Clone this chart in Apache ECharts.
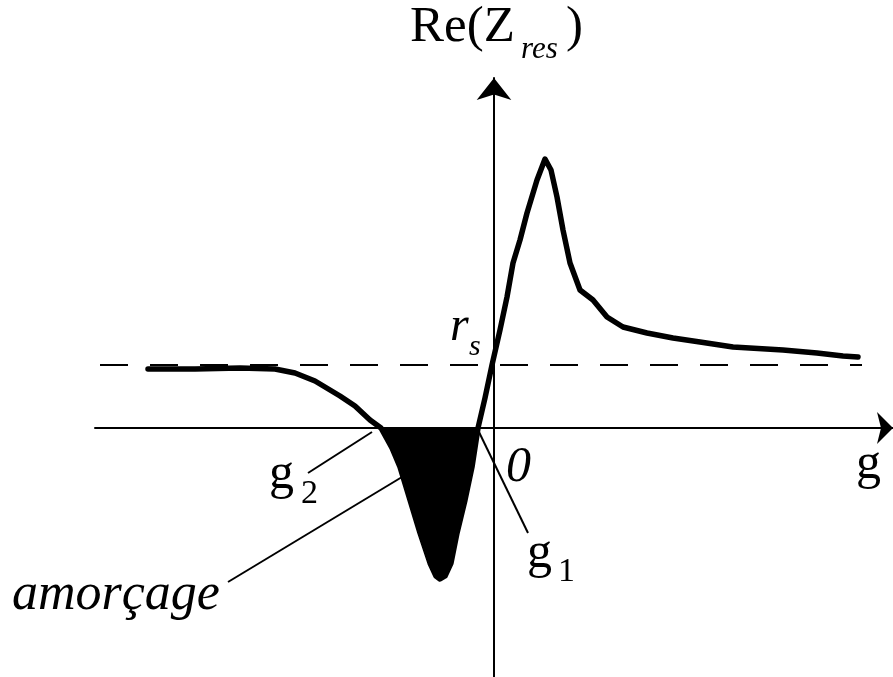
<!DOCTYPE html>
<html>
<head>
<meta charset="utf-8">
<script src="https://cdn.jsdelivr.net/npm/echarts@6/dist/echarts.min.js"></script>
<style>
  html, body { margin: 0; padding: 0; background: #fff; }
  #chart { width: 893px; height: 677px; }
</style>
</head>
<body>
<div id="chart"></div>
<script>
// Gain g (horizontal) and real part of the resonator impedance Re(Z_res) (vertical)
const curveG = [-3.46, -2.99, -2.54, -2.19, -1.99, -1.79, -1.54, -1.39, -1.24, -1.13,
  -1.02, -0.94, -0.84, -0.74, -0.64, -0.58, -0.54, -0.49, -0.43, -0.37, -0.29, -0.22, -0.16,
  -0.09, -0.02, 0.06, 0.13, 0.19, 0.26, 0.33, 0.43, 0.51, 0.57, 0.63, 0.69, 0.76, 0.86,
  0.99, 1.13, 1.29, 1.53, 1.79, 2.06, 2.39, 2.89, 3.23, 3.49, 3.64];
const curveRe = [0.59, 0.59, 0.60, 0.59, 0.55, 0.47, 0.32, 0.22, 0.08, 0,
  -0.20, -0.39, -0.72, -1.05, -1.35, -1.48, -1.51, -1.48, -1.35, -1.05, -0.72, -0.39, 0,
  0.30, 0.63, 0.98, 1.31, 1.65, 1.88, 2.15, 2.48, 2.69, 2.58, 2.31, 1.98, 1.65, 1.38,
  1.28, 1.11, 1.01, 0.95, 0.90, 0.86, 0.81, 0.78, 0.75, 0.72, 0.71];

// Series resistance level r_s (dashed reference line)
const rs = 0.63;
const rsSpan = [-3.94, 3.68];

// Zero crossings bounding the start-up (amorçage) region
const g2 = -1.13;
const g1 = -0.16;

// Leader lines from the annotations to the curve
const leaderG2 = [[-1.86, -0.45], [-1.22, -0.04]];
const leaderAmorcage = [[-2.66, -1.54], [-0.92, -0.49]];
const leaderG1 = [[-0.16, -0.02], [0.34, -1.05]];

const curve = curveG.map((g, i) => [g, curveRe[i]]);
const negativePart = curve.filter(p => p[0] >= g2 && p[0] <= g1);

const chart = echarts.init(document.getElementById('chart'), null, { renderer: 'canvas' });

const serif = '"Liberation Serif", "DejaVu Serif", serif';
function txt(text, x, y, size, italic) {
  return {
    type: 'text', x: x, y: y, z: 100,
    style: {
      text: text,
      font: (italic ? 'italic ' : '') + size + 'px ' + serif,
      fill: '#000',
      textAlign: 'left',
      textVerticalAlign: 'middle'
    }
  };
}

const leaderStyle = { color: '#000', width: 2 };
function leader(data) {
  return {
    type: 'line', data: data, symbol: 'none', silent: true,
    lineStyle: leaderStyle, z: 3, clip: false
  };
}

chart.setOption({
  animation: false,
  backgroundColor: '#fff',
  grid: { left: 95, right: 0, top: 78, bottom: 0 },
  xAxis: {
    type: 'value', min: -3.99, max: 3.99,
    axisLine: { show: true, onZero: true, symbol: ['none', 'arrow'], symbolSize: [24, 16],
      lineStyle: { color: '#000', width: 2 } },
    axisTick: { show: false }, axisLabel: { show: false }, splitLine: { show: false }
  },
  yAxis: {
    type: 'value', min: -2.49, max: 3.50,
    axisLine: { show: true, onZero: true, symbol: ['none', 'arrow'], symbolSize: [26, 22],
      lineStyle: { color: '#000', width: 2 } },
    axisTick: { show: false }, axisLabel: { show: false }, splitLine: { show: false }
  },
  series: [
    {
      type: 'line', data: [[rsSpan[0], rs], [rsSpan[1], rs]], symbol: 'none', silent: true,
      lineStyle: { color: '#000', width: 2, type: [28, 22] }, z: 2
    },
    {
      type: 'line', data: negativePart, symbol: 'none', silent: true,
      lineStyle: { width: 0 }, areaStyle: { color: '#000', opacity: 1, origin: 0 }, z: 4
    },
    {
      type: 'line', data: curve, symbol: 'none', silent: true,
      lineStyle: { color: '#000', width: 5.5, join: 'round', cap: 'round' }, z: 5
    },
    leader(leaderG2),
    leader(leaderAmorcage),
    leader(leaderG1)
  ],
  graphic: [
    txt('Re(Z', 410, 28, 51, false),
    txt('res', 521, 50, 31, true),
    txt(')', 566, 28, 51, false),
    txt('r', 450, 327, 48, true),
    txt('s', 469, 347, 30, true),
    txt('0', 506, 468, 50, true),
    txt('g', 856, 465, 50, false),
    txt('g', 269, 475, 50, false),
    txt('2', 301, 494, 34, false),
    txt('g', 527, 554, 50, false),
    txt('1', 558, 572, 34, false),
    txt('amorçage', 12, 595, 52, true)
  ]
});
</script>
</body>
</html>
